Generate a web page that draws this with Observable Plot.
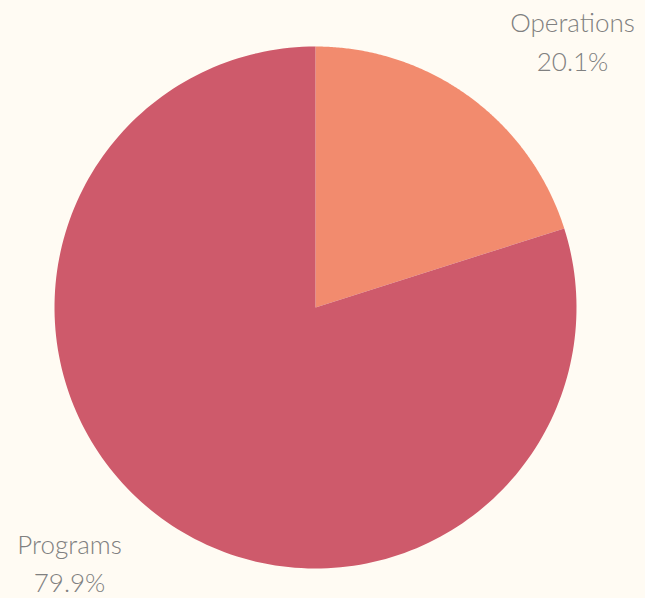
<!DOCTYPE html>
<html>
<head>
<meta charset="utf-8">
<script src="https://cdn.jsdelivr.net/npm/d3@7"></script>
<script src="https://cdn.jsdelivr.net/npm/@observablehq/plot@0.6"></script>
<style>
  html, body { margin: 0; padding: 0; background: #fffbf3; }
  #chart { width: 645px; height: 598px; }
</style>
</head>
<body>
<div id="chart"></div>
<script>
const categories = ["Operations", "Programs"];
const shares = [20.1, 79.9];
const colors = ["#f28b6e", "#ce5a6b"];

const pie = d3.pie().sort(null).value(d => d.share);
const arcs = pie(categories.map((c, i) => ({category: c, share: shares[i]})));

// polygon vertices for each slice in unit coordinates
const pts = [];
arcs.forEach(a => {
  const n = 200;
  pts.push({category: a.data.category, u: 0, v: 0});
  for (let k = 0; k <= n; k++) {
    const t = a.startAngle + (a.endAngle - a.startAngle) * k / n;
    pts.push({category: a.data.category, u: Math.sin(t), v: Math.cos(t)});
  }
});

const labels = arcs.map(a => ({
  category: a.data.category,
  text: `${a.data.category}\n${a.data.share.toFixed(1)}%`
}));

const chart = Plot.plot({
  width: 645,
  height: 598,
  margin: 0,
  style: {background: "#fffbf3", fontFamily: "Lato", overflow: "visible"},
  x: {domain: [-1, 1], range: [54, 576], axis: null},
  y: {domain: [-1, 1], range: [568, 46], axis: null},
  color: {domain: categories, range: colors},
  marks: [
    Plot.line(pts, {x: "u", y: "v", z: "category", fill: "category", stroke: null, curve: "linear-closed"}),
    Plot.text(labels.filter(d => d.category === "Operations"), {
      text: "text", frameAnchor: "top-right", textAnchor: "middle", dx: -73, dy: 4,
      lineHeight: 1.5, fontSize: 26, fontWeight: 300, fill: "#808080"
    }),
    Plot.text(labels.filter(d => d.category === "Programs"), {
      text: "text", frameAnchor: "bottom-left", textAnchor: "middle", dx: 69, dy: -7,
      lineHeight: 1.45, fontSize: 26, fontWeight: 300, fill: "#808080"
    })
  ]
});
document.getElementById("chart").append(chart);
</script>
</body>
</html>
